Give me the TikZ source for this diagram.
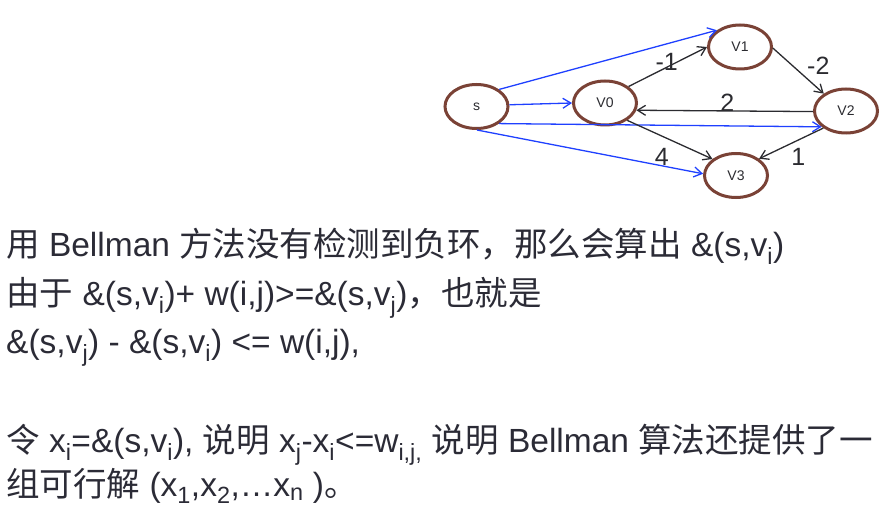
\documentclass[tikz,border=0pt]{standalone}
\usepackage{fontspec}
\setmainfont{Liberation Sans}
\newfontfamily\cjk{Noto Sans CJK SC}
\usetikzlibrary{arrows.meta,shapes.geometric}

\newlength{\du}
\setlength{\du}{1pt}

\definecolor{nodeline}{rgb}{0.478,0.259,0.212}
\definecolor{blueline}{rgb}{0.120,0.250,1.000}
\definecolor{darkline}{rgb}{0.170,0.170,0.190}
\definecolor{textcolor}{rgb}{0.170,0.170,0.210}

\tikzset{
  vertex/.style={ellipse,draw=nodeline,line width=3\du,minimum width=63\du,
    minimum height=44\du,inner sep=0pt,text=darkline,font=\fontsize{14}{16}\selectfont},
  blueedge/.style={draw=blueline,line width=1.3\du,-{Straight Barb[length=8pt,width=10pt]}},
  darkedge/.style={draw=darkline,line width=1.3\du,-{Straight Barb[length=8pt,width=10pt]}},
  weight/.style={inner sep=0pt,text=darkline,font=\fontsize{25}{28}\selectfont},
  textline/.style={anchor=base west,inner sep=0pt,text=textcolor,font=\fontsize{33.5}{40}\selectfont},
}

\begin{document}
\begin{tikzpicture}
\pgftransformyscale{-1.000000}
\useasboundingbox (0\du,0\du) rectangle (880\du,513\du);
% vertices
\node[vertex] (s)  at (476.5\du,106.5\du) {s};
\node[vertex] (V0) at (605.0\du,103.0\du) {V0};
\node[vertex] (V1) at (740.0\du,47.0\du) {V1};
\node[vertex] (V2) at (846.0\du,111.0\du) {V2};
\node[vertex] (V3) at (736.0\du,175.5\du) {V3};
% edges from s
\draw[blueedge] (s.37) -- (V1.144);
\draw[blueedge] (s.3) -- (V0.180);
\draw[blueedge] (s.-37) -- (V2.213);
\draw[blueedge] (s.-89) -- (V3.177);
% weighted edges
\draw[darkedge] (V0.35) -- (V1.180);
\draw[darkedge] (V1.-2) -- (V2.142);
\draw[darkedge] (V2.181) -- (V0.-13);
\draw[darkedge] (V0.-38) -- (V3.145);
\draw[darkedge] (V2.217) -- (V3.36);
% weights
\node[weight] (w01) at (666.7\du,61.7\du) {-1};
\node[weight] (w12) at (818.3\du,65.7\du) {-2};
\node[weight] (w20) at (727.3\du,102.3\du) {2};
\node[weight] (w03) at (661.7\du,156.7\du) {4};
\node[weight] (w23) at (798.3\du,156.7\du) {1};
% text
\node[textline] (line1) at (6\du,256\du) {{\cjk 用} Bellman {\cjk 方法没有检测到负环，那么会算出} \&(s,v\textsubscript{i})};
\node[textline] (line2) at (6\du,305\du) {{\cjk 由于} \&(s,v\textsubscript{i})+ w(i,j)>=\&(s,v\textsubscript{j}){\cjk ，也就是}};
\node[textline] (line3) at (6\du,353\du) {\&(s,v\textsubscript{j}) - \&(s,v\textsubscript{i}) <= w(i,j),};
\node[textline] (line4) at (6\du,452\du) {{\cjk 令} x\textsubscript{i}=\&(s,v\textsubscript{i}), {\cjk 说明} x\textsubscript{j}-x\textsubscript{i}<=w\textsubscript{i,j,} {\cjk 说明} Bellman {\cjk 算法还提供了一}};
\node[textline] (line5) at (6\du,496\du) {{\cjk 组可行解} (x\textsubscript{1},x\textsubscript{2},…x\textsubscript{n} ){\cjk 。}};
\end{tikzpicture}
\end{document}
